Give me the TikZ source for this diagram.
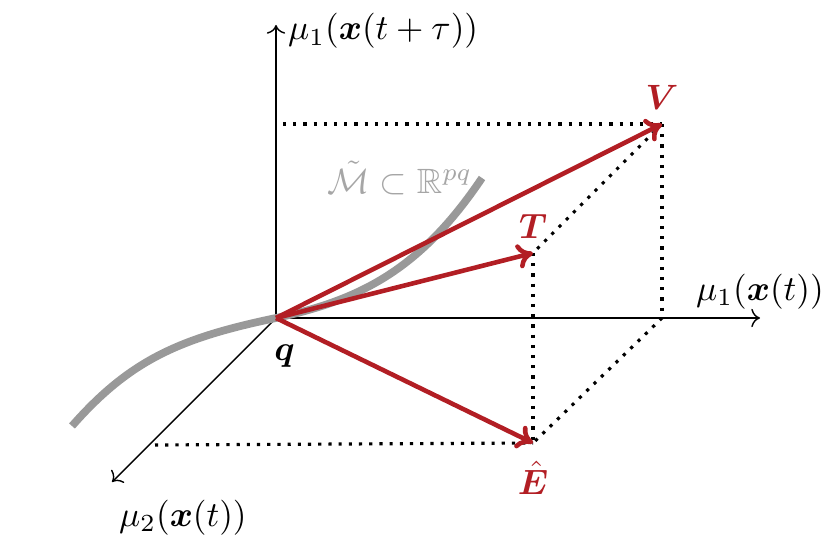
\documentclass[tikz,border=0pt]{standalone}
\usepackage{amsmath,amssymb,bm}
\usetikzlibrary{arrows.meta, positioning, calc}

\definecolor{vecred}{RGB}{178,30,36}

\begin{document}
\begin{tikzpicture}[x=0.01cm, y=-0.01cm,
	axis/.style = {draw, thin, ->},
	proj/.style = {draw, dotted, line width=0.9pt},
	vec/.style = {% red vectors
		draw=vecred, line width=1.3pt, -{To[length=4.5pt, width=7pt]}},
	vlabel/.style = {text=vecred, inner sep=1pt},
	mani/.style = {draw=gray!80, line width=2.2pt}]

\useasboundingbox (0,0) rectangle (831,540);

	% points
	\coordinate (q)  at (276,318);
	\coordinate (V)  at (662,124);
	\coordinate (T)  at (533,253);
	\coordinate (E)  at (533,443);
	\coordinate (c1) at (662,318);
	\coordinate (vt) at (283,124);
	\coordinate (el) at (155,445);
	\coordinate (m0) at (72,426);
	\coordinate (m1) at (482,178);
	% axis ends
	\coordinate (ay) at (276,25);
	\coordinate (ax) at (760,318);
	\coordinate (az) at (112,482);

	% axes
	\draw[axis] (q) -- (ay);
	\draw[axis] (q) -- (ax);
	\draw[axis] (q) -- (az);
	\node[anchor=west, inner sep=1pt] (ly) at ($(ay)+(8,6)$) {$\mu_1(\bm{x}(t+\tau))$};
	\node[above=-1pt of ax] (lx) {$\mu_1(\bm{x}(t))$};
	\node[below right=1.5pt and -1.5pt of az] (lz) {$\mu_2(\bm{x}(t))$};

	% dotted projections
	\draw[proj] (vt) -- (V);
	\draw[proj] (V) -- (c1);
	\draw[proj] (V) -- (T);
	\draw[proj] (T) -- (E);
	\draw[proj] (c1) -- (E);
	\draw[proj] (el) -- (E);

	% manifold
	\draw[mani] (m0) .. controls (130,360) and (180,338) .. (q)
		.. controls (360,300) and (420,270) .. (m1);
	\node[text=gray!70] (lm) at (400,178) {$\tilde{\mathcal{M}} \subset \mathbb{R}^{pq}$};

	% vectors
	\draw[vec] (q) -- (V);
	\draw[vec] (q) -- (T);
	\draw[vec] (q) -- (E);
	\node[vlabel, above=3pt of V] (lV) {$\bm{V}$};
	\node[vlabel, above=3pt of T] (lT) {$\bm{T}$};
	\node[vlabel, below=4pt of E] (lE) {$\hat{\bm{E}}$};
	\node[below right=4pt and -4pt of q] (lq) {$\bm{q}$};
\end{tikzpicture}
\end{document}
